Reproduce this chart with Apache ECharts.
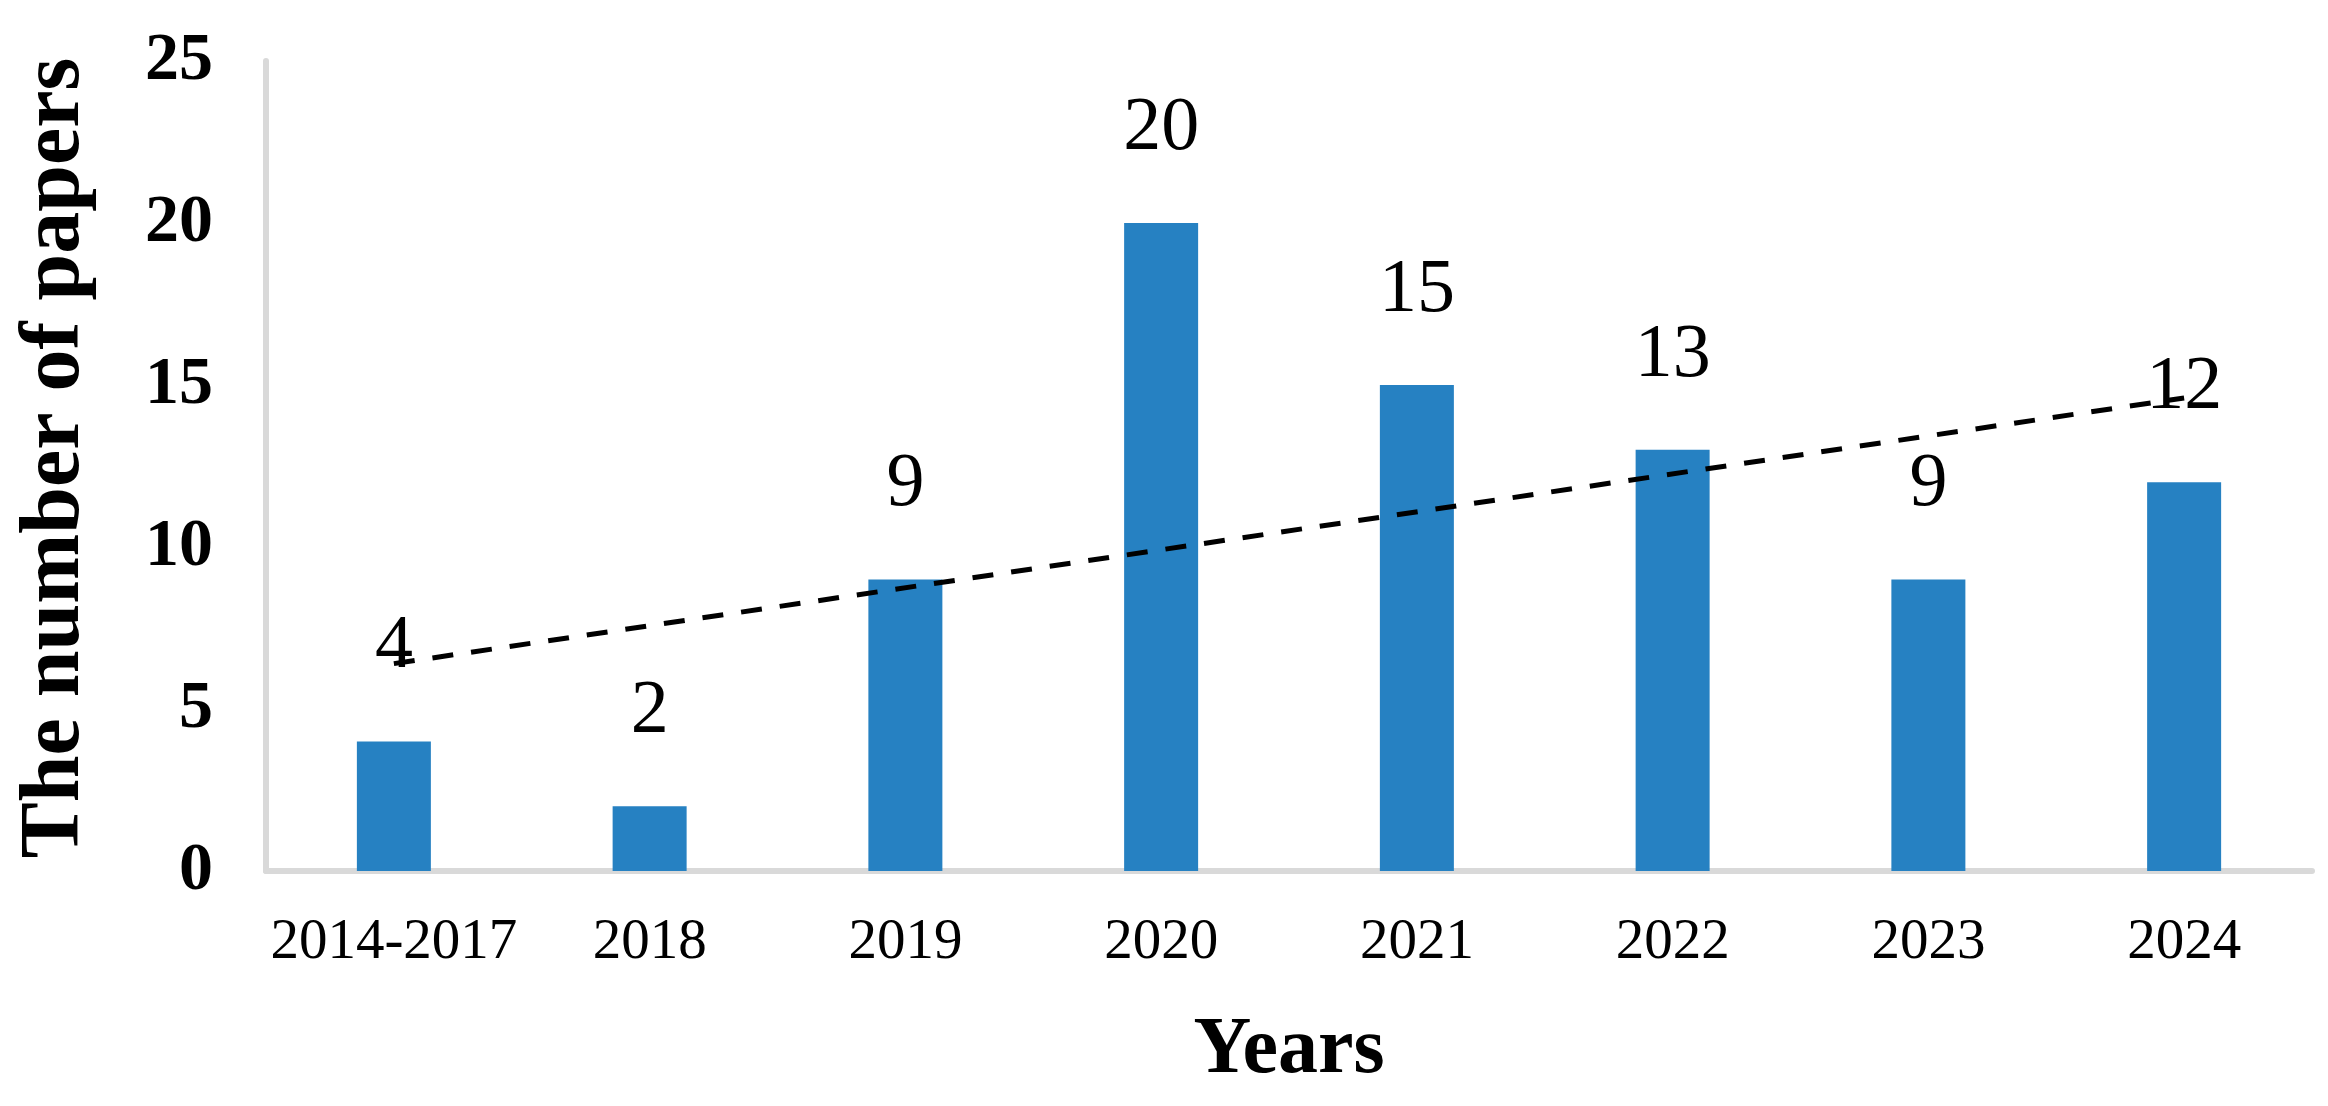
<!DOCTYPE html>
<html>
<head>
<meta charset="utf-8">
<title>The number of papers</title>
<script src="https://cdn.jsdelivr.net/npm/echarts@6/dist/echarts.min.js"></script>
<style>
  html, body { margin: 0; padding: 0; background: #fff; }
  #main { width: 2328px; height: 1106px; }
</style>
</head>
<body>
<div id="main"></div>
<script>
// data
const years = ['2014-2017', '2018', '2019', '2020', '2021', '2022', '2023', '2024'];
const papers = [4, 2, 9, 20, 15, 13, 9, 12];
// dashed trend line, only its two ends are drawn
const trendStart = 6.4;
const trendEnd = 14.6;

const trend = years.map(() => null);
trend[0] = trendStart;
trend[trend.length - 1] = trendEnd;

const serif = '"Liberation Serif", "Times New Roman", serif';

const chart = echarts.init(document.getElementById('main'));
chart.setOption({
    backgroundColor: '#fff',
    animation: false,
    grid: { left: 266, right: 16, top: 61, bottom: 235, outerBoundsMode: 'none', containLabel: false },
    xAxis: {
        type: 'category',
        data: years,
        name: 'Years',
        nameLocation: 'middle',
        nameGap: 140,
        nameTextStyle: { fontFamily: serif, fontWeight: 'bold', fontSize: 80, color: '#000' },
        axisLine: { lineStyle: { color: '#d9d9d9', width: 6 } },
        axisTick: { show: false },
        axisLabel: { interval: 0, fontFamily: serif, fontSize: 57, color: '#000', margin: 44 }
    },
    yAxis: {
        type: 'value',
        min: 0,
        max: 25,
        interval: 5,
        name: 'The number of papers',
        nameLocation: 'middle',
        nameRotate: 90,
        nameGap: 168,
        nameTextStyle: { fontFamily: serif, fontWeight: 'bold', fontSize: 84, color: '#000', padding: [0, 0, 0, 16] },
        axisLine: { show: true, lineStyle: { color: '#d9d9d9', width: 6 } },
        axisTick: { show: false },
        splitLine: { show: false },
        axisLabel: { fontFamily: serif, fontWeight: 'bold', fontSize: 68, color: '#000', margin: 53 }
    },
    series: [
        {
            type: 'bar',
            data: papers,
            barWidth: 74,
            itemStyle: { color: '#2681c2' },
            label: {
                show: true,
                position: 'top',
                distance: 56,
                fontFamily: serif,
                fontSize: 76,
                color: '#000'
            },
            z: 2
        },
        {
            type: 'line',
            data: trend,
            connectNulls: true,
            symbol: 'none',
            lineStyle: { color: '#000', width: 5, type: [21, 18] },
            z: 3
        }
    ]
});
</script>
</body>
</html>
